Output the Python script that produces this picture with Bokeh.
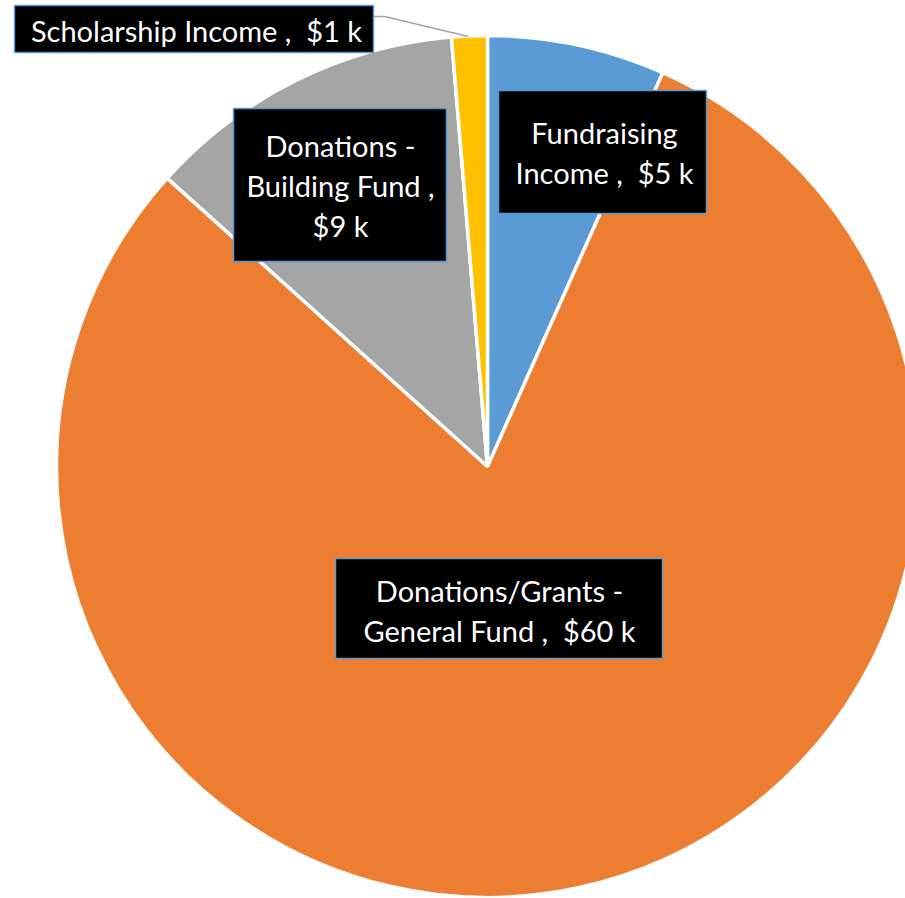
import numpy as np
from bokeh.plotting import figure
from bokeh.models import Range1d, ColumnDataSource
from bokeh.core.properties import value
from bokeh.embed import file_html
from bokeh.resources import INLINE

# ---- data ----
categories = ["Fundraising Income", "Donations/Grants - General Fund",
              "Donations - Building Fund", "Scholarship Income"]
values_k = [5, 60, 9, 1]
colors = ["#5B9BD5", "#ED7D31", "#A5A5A5", "#FFC000"]
label_texts = ["Fundraising\nIncome ,\u00a0 $5 k",
               "Donations/Grants -\nGeneral Fund ,\u00a0 $60 k",
               "Donations -\nBuilding Fund ,\n$9 k",
               "Scholarship Income ,\u00a0 $1 k"]

# ---- layout (reference pixel coordinates, y downward) ----
W, H = 905, 898
CX, CY, R = 487, 466, 431
# label box: left, right, top, bottom ; text centre
boxes = [(498, 706, 90, 213), (335, 662, 558, 658), (233, 446, 108, 261), (14, 373, 5, 52)]
text_centres = [(604, 152), (499, 610), (340, 185), (196, 30)]

def Y(v):
    return -np.asarray(v, dtype=float)

p = figure(width=W, height=H, output_backend="svg", toolbar_location=None,
           x_range=Range1d(0, W), y_range=Range1d(-H, 0),
           min_border=0, outline_line_color=None)
p.axis.visible = False
p.grid.visible = False

vals = np.array(values_k, dtype=float)
frac = vals / vals.sum()
ends = np.pi / 2 - 2 * np.pi * np.cumsum(frac)
starts = np.concatenate([[np.pi / 2], ends[:-1]])

src = ColumnDataSource(dict(start=starts, end=ends, color=colors, cat=categories))
p.wedge(x=CX, y=-CY, radius=R, start_angle="start", end_angle="end",
        direction="clock", fill_color="color", line_color="white", line_width=3.5,
        source=src)

# leader line for scholarship label
p.line(x=[373, 384, 468], y=Y([16, 16, 36]), line_color="#A5A5A5", line_width=1.5)

# label boxes
l = [b[0] for b in boxes]; r = [b[1] for b in boxes]
t = [b[2] for b in boxes]; b_ = [b[3] for b in boxes]
p.quad(left=l, right=r, top=Y(t), bottom=Y(b_), fill_color="black",
       line_color="#5B9BD5", line_width=1.5)

p.text(x=[c[0] for c in text_centres], y=Y([c[1] for c in text_centres]),
       text=label_texts, text_color="white", text_font=value("Lato"),
       text_font_size="29px", text_align="center", text_baseline="middle",
       text_line_height=1.13)

open("out.html", "w").write(file_html(p, INLINE))
